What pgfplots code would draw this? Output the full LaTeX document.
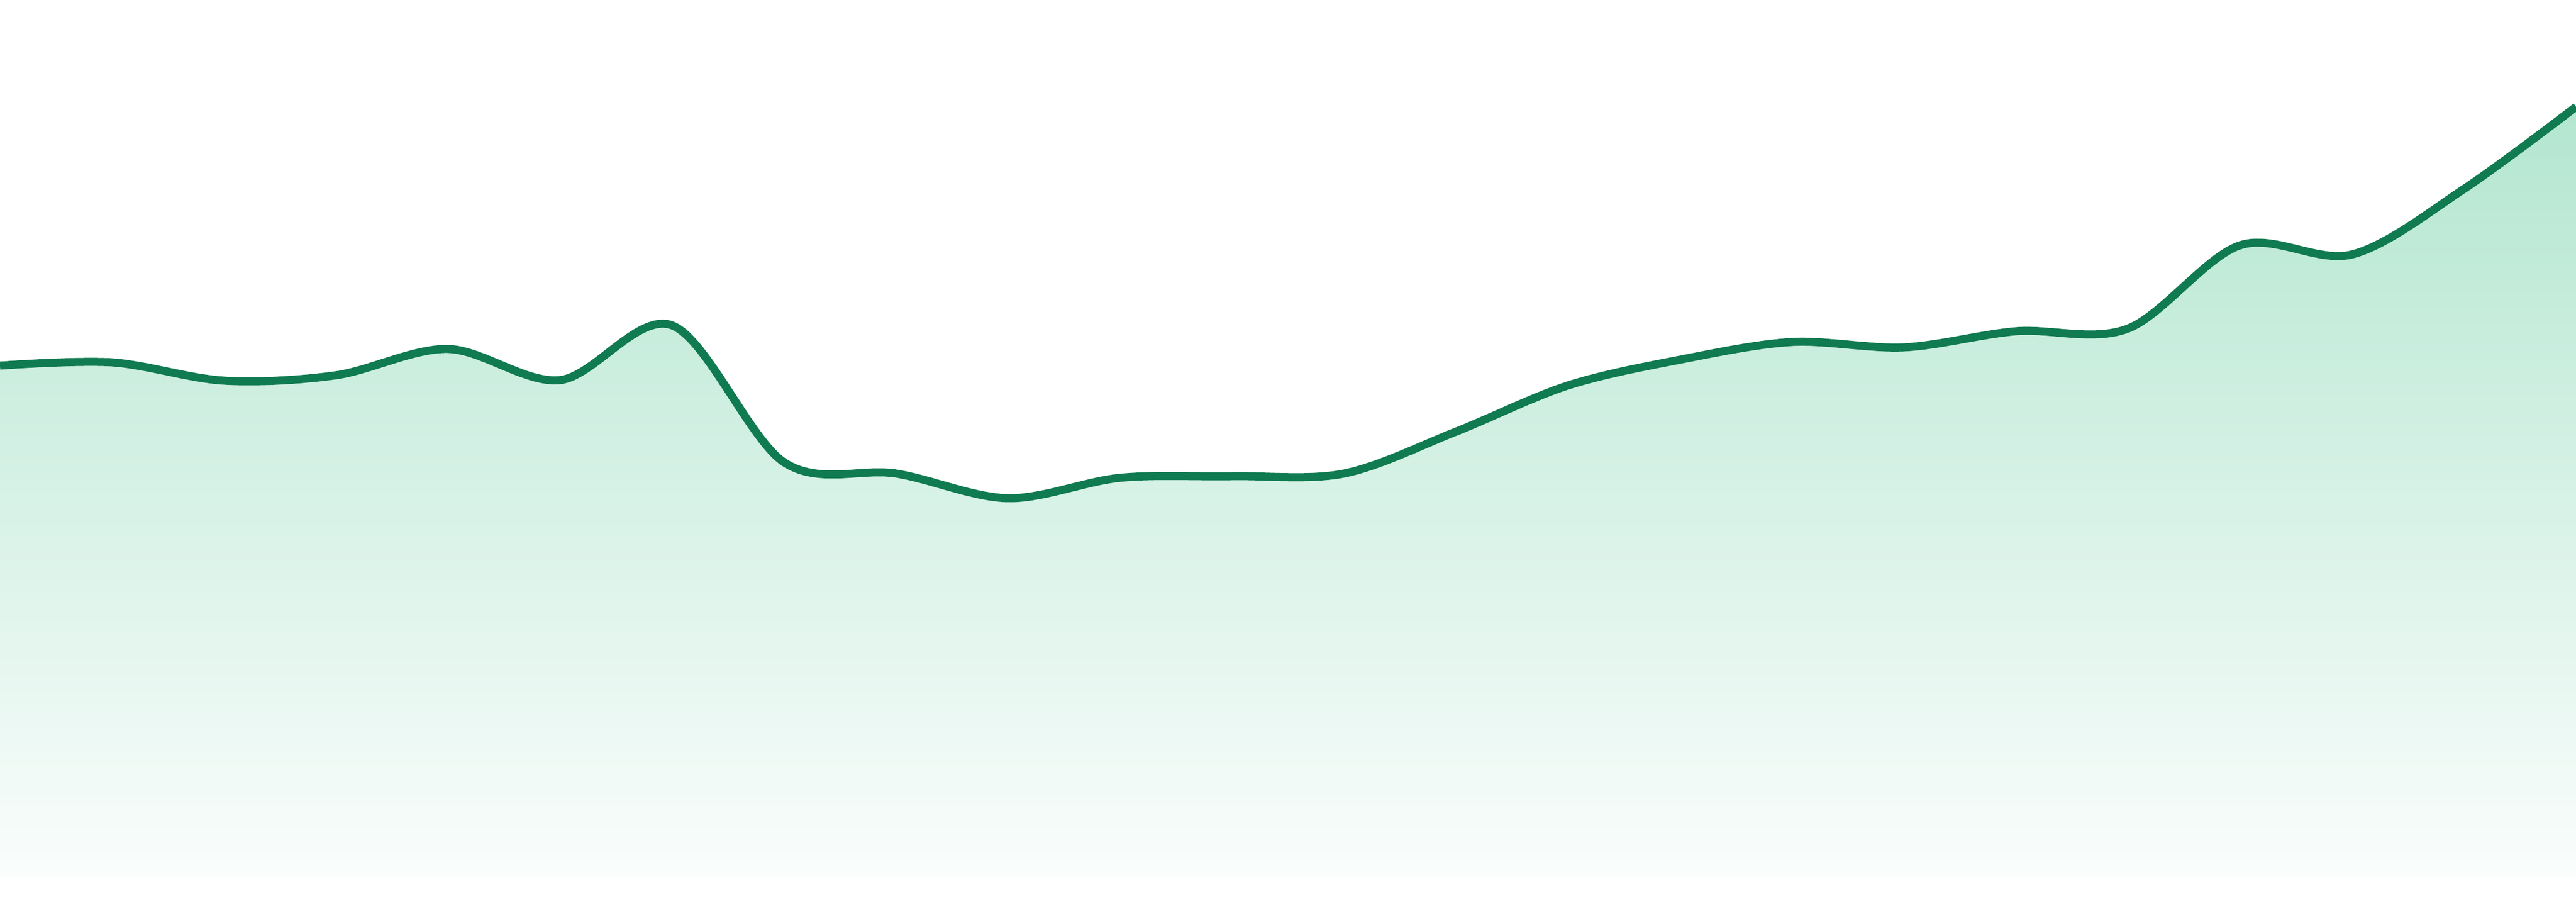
\documentclass[border=0pt]{standalone}
\usepackage{pgfplots}
\pgfplotsset{compat=1.18}
\definecolor{linegreen}{RGB}{16,122,80}
\definecolor{filltop}{RGB}{179,230,208}
\definecolor{fillbottom}{RGB}{250,253,252}
\begin{document}
\begin{tikzpicture}
\begin{axis}[
    at={(0pt,4.7pt)}, anchor=south west,
    scale only axis,
    width=480pt, height=163.3pt,
    xmin=0, xmax=23,
    ymin=0, ymax=1633,
    axis lines=none,
    ticks=none,
    clip=true
]
% filled area under the series
\addplot[draw=none, smooth, tension=0.55, top color=filltop, bottom color=fillbottom] coordinates {
(0,952)(1,958)(2,924)(3,934)(4,983)(5,925)(6,1027)(7,772)
(8,751)(9,705)(10,743)(11,746)(12,751)(13,829)(14,915)(15,963)
(16,996)(17,986)(18,1016)(19,1021)(20,1176)(21,1159)(22,1281)(23,1434)
} \closedcycle;
% the line itself
\addplot[color=linegreen, line width=1.5pt, smooth, tension=0.55] coordinates {
(0,952)(1,958)(2,924)(3,934)(4,983)(5,925)(6,1027)(7,772)
(8,751)(9,705)(10,743)(11,746)(12,751)(13,829)(14,915)(15,963)
(16,996)(17,986)(18,1016)(19,1021)(20,1176)(21,1159)(22,1281)(23,1434)
};
\end{axis}
\pgfresetboundingbox
\path[use as bounding box] (0,0) rectangle (480pt,168pt);
\end{tikzpicture}
\end{document}
